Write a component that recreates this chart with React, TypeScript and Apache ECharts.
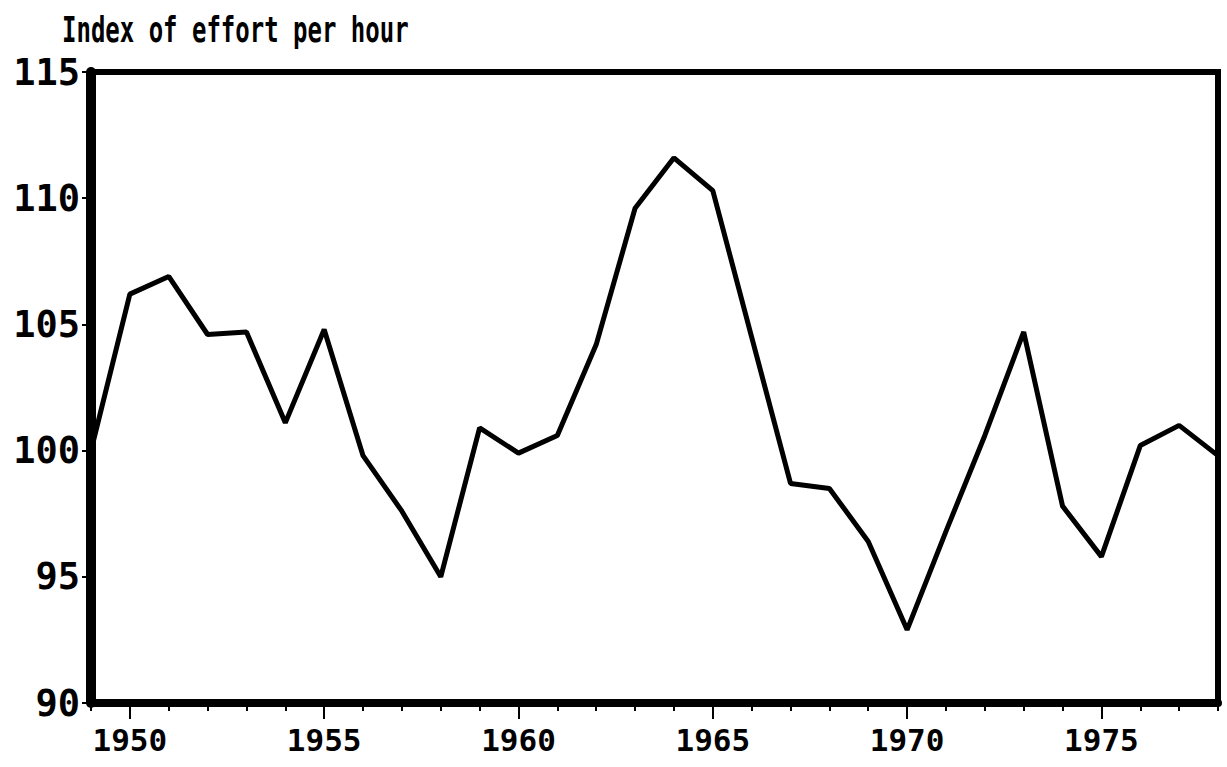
import React, { useEffect, useRef } from "react";
import * as echarts from "echarts";

const years = [1949,1950,1951,1952,1953,1954,1955,1956,1957,1958,1959,1960,1961,1962,1963,1964,1965,1966,1967,1968,1969,1970,1971,1972,1973,1974,1975,1976,1977,1978];
const effortIndex = [100.0,106.2,106.9,104.6,104.7,101.1,104.8,99.8,97.6,95.0,100.9,99.9,100.6,104.2,109.6,111.6,110.3,104.5,98.7,98.5,96.4,92.9,96.8,100.6,104.7,97.8,95.8,100.2,101.0,99.8];
const labelYears = [1950, 1955, 1960, 1965, 1970, 1975];
const yTicks = [90, 95, 100, 105, 110, 115];
const titleText = "Index of effort per hour";

export default function App() {
  const ref = useRef<HTMLDivElement>(null);
  useEffect(() => {
    if (!ref.current) return;
    const chart = echarts.init(ref.current, null, { renderer: "svg" });
    const font = "DejaVu Sans Mono";
    const grid = { left: 91, right: 9, top: 72, bottom: 64, containLabel: false, show: true, borderColor: "#000", borderWidth: 6 };
    chart.setOption({
      animation: false,
      backgroundColor: "#fff",
      graphic: [
        {
          type: "text",
          x: 62,
          y: 12,
          scaleY: 1.45,
          style: { text: titleText, fill: "#000", font: `bold 24px "${font}"` },
        },
      ],
      grid: [grid],
      xAxis: [
        {
          type: "value",
          min: 1949,
          max: 1978,
          position: "bottom",
          splitLine: { show: false },
          axisLine: { show: true, onZero: false, lineStyle: { color: "#000", width: 8 } },
          axisTick: { show: true, length: 8, inside: false, lineStyle: { color: "#000", width: 2 }, customValues: years },
          axisLabel: {
            show: true,
            customValues: labelYears,
            formatter: (v: number) => String(v),
            color: "#000",
            fontFamily: font,
            fontWeight: "bold",
            fontSize: 31,
            margin: 21,
          },
        },
        {
          type: "value",
          min: 1949,
          max: 1978,
          position: "bottom",
          splitLine: { show: false },
          axisLine: { show: false },
          axisTick: { show: true, length: 16, lineStyle: { color: "#000", width: 2 }, customValues: labelYears },
          axisLabel: { show: false },
        },
      ],
      yAxis: {
        type: "value",
        min: 90,
        max: 115,
        interval: 5,
        splitLine: { show: false },
        axisLine: { show: true, onZero: false, lineStyle: { color: "#000", width: 10 } },
        axisTick: { show: true, length: 9, lineStyle: { color: "#000", width: 2 }, customValues: yTicks },
        axisLabel: {
          color: "#000",
          fontFamily: font,
          fontWeight: "bold",
          fontSize: 37,
          margin: 11,
        },
      },
      series: [
        {
          type: "line",
          data: years.map((y, i) => [y, effortIndex[i]]),
          showSymbol: false,
          symbol: "none",
          lineStyle: { color: "#000", width: 5 },
          clip: true,
        },
      ],
    });
    return () => chart.dispose();
  }, []);
  return <div ref={ref} style={{ position: "fixed", left: 0, top: 0, width: 1227, height: 767, background: "#fff" }} />;
}
